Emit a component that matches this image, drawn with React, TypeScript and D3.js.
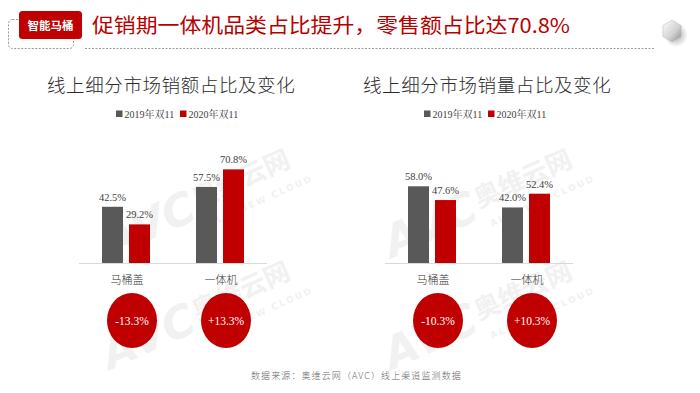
import React from "react";
import * as d3 from "d3";

const categories = ["马桶盖", "一体机"];
const seriesNames = ["2019年双11", "2020年双11"];
const salesValues2019 = [42.5, 57.5];
const salesValues2020 = [29.2, 70.8];
const volumeValues2019 = [58.0, 42.0];
const volumeValues2020 = [47.6, 52.4];
const salesChange = ["-13.3%", "+13.3%"];
const volumeChange = ["-10.3%", "+10.3%"];
const chartTitles = ["线上细分市场销额占比及变化", "线上细分市场销量占比及变化"];
const headerTag = "智能马桶";
const headerTitle = "促销期一体机品类占比提升，零售额占比达70.8%";
const sourceText = "数据来源：奥维云网（AVC）线上渠道监测数据";

const W = 700;
const H = 393;
const GRAY = "#595959";
const RED = "#c00000";
const CJK = "'Noto Sans CJK SC', sans-serif";
const SERIF = "'Liberation Serif', 'Noto Serif CJK SC', 'Noto Sans CJK SC', serif";

const y = d3.scaleLinear().domain([0, 80]).range([263, 157.2]);

function Watermark({ x, yy }: { x: number; yy: number }) {
  return (
    <g transform={`translate(${x},${yy}) rotate(-24)`} fill="#f1f1f1">
      <text x={0} y={0} fontFamily="'DejaVu Sans', sans-serif" fontWeight={700} fontStyle="italic" fontSize={44}>
        AVC
      </text>
      <text x={100} y={-10} fontFamily={CJK} fontWeight={700} fontSize={26}>
        奥维云网
      </text>
      <text x={104} y={12} fontFamily="'DejaVu Sans', sans-serif" fontWeight={700} fontSize={9} letterSpacing={2}>
        ALL VIEW CLOUD
      </text>
    </g>
  );
}

function Chart({
  x0,
  title,
  v2019,
  v2020,
  changes,
  legendX,
  titleX,
}: {
  x0: number;
  title: string;
  v2019: number[];
  v2020: number[];
  changes: string[];
  legendX: number;
  titleX: number;
}) {
  const x = d3.scaleBand<string>().domain(categories).range([x0, x0 + 188]).padding(0);
  const x1 = d3
    .scaleBand<string>()
    .domain(seriesNames)
    .range([0, x.bandwidth()])
    .paddingInner(0.222)
    .paddingOuter(0.852);
  const vals = [v2019, v2020];
  const colors = [GRAY, RED];
  return (
    <g>
      <text x={titleX} y={92} fontFamily={CJK} fontWeight={300} fontSize={18.5} letterSpacing={0.6} fill="#2b2b2b">
        {title}
      </text>
      {seriesNames.map((s, i) => (
        <g key={s} transform={`translate(${legendX + i * 64},0)`}>
          <rect x={0} y={110.5} width={6.5} height={6.5} fill={colors[i]} />
          <text x={8.5} y={117.5} fontFamily={SERIF} fontSize={10} fill="#404040">
            {s}
          </text>
        </g>
      ))}
      <line x1={x0} x2={x0 + 188} y1={263.5} y2={263.5} stroke="#d9d9d9" strokeWidth={1} />
      {categories.map((c, ci) => (
        <g key={c}>
          {seriesNames.map((s, si) => {
            const bx = (x(c) as number) + (x1(s) as number);
            const v = vals[si][ci];
            return (
              <g key={s}>
                <rect x={bx} y={y(v)} width={x1.bandwidth()} height={y(0) - y(v)} fill={colors[si]} />
                <text
                  x={bx + x1.bandwidth() / 2}
                  y={y(v) - 6}
                  textAnchor="middle"
                  fontFamily={SERIF}
                  fontSize={10.5}
                  fill="#404040"
                >
                  {v.toFixed(1)}%
                </text>
              </g>
            );
          })}
          <text
            x={(x(c) as number) + x.bandwidth() / 2 + 1}
            y={284}
            textAnchor="middle"
            fontFamily={CJK}
            fontWeight={300}
            fontSize={11}
            fill="#333"
          >
            {c}
          </text>
          <ellipse
            cx={(x(c) as number) + x.bandwidth() / 2 + 6}
            cy={320.5}
            rx={25}
            ry={27.5}
            fill={RED}
          />
          <text
            x={(x(c) as number) + x.bandwidth() / 2 + 6}
            y={320.5}
            dy="0.35em"
            textAnchor="middle"
            fontFamily={SERIF}
            fontSize={11.5}
            fill="#fff"
          >
            {changes[ci]}
          </text>
        </g>
      ))}
    </g>
  );
}

export default function App() {
  return (
    <svg width={W} height={H} style={{ position: "absolute", left: 0, top: 0, background: "#fff" }}>
      <rect width={W} height={H} fill="#fff" />
      <Watermark x={110} yy={258} />
      <Watermark x={392} yy={258} />
      <Watermark x={110} yy={370} />
      <Watermark x={392} yy={370} />
      {/* header */}
      <rect x={8.5} y={19.5} width={65} height={29} rx={4} fill="none" stroke="#9a9a9a" strokeDasharray="2,1.5" />
      <line x1={85} x2={655} y1={48.5} y2={48.5} stroke="#9a9a9a" strokeDasharray="2,1.5" />
      <rect x={19} y={11} width={63} height={28} rx={3.5} fill="#c00000" />
      <text x={50.5} y={29.5} textAnchor="middle" fontFamily={CJK} fontWeight={700} fontSize={11.5} fill="#fff">
        {headerTag}
      </text>
      <text
        x={92}
        y={33}
        fontFamily={CJK}
        fontSize={20}
        fill="#b80000"
        textLength={478}
        lengthAdjust="spacingAndGlyphs"
      >
        {headerTitle}
      </text>
      <defs>
        <linearGradient id="hexg" x1="0" y1="0" x2="1" y2="1">
          <stop offset="0" stopColor="#ffffff" />
          <stop offset="0.6" stopColor="#d0d0d0" />
          <stop offset="1" stopColor="#8a8a8a" />
        </linearGradient>
        <radialGradient id="hexs">
          <stop offset="0" stopColor="#000" stopOpacity={0.35} />
          <stop offset="1" stopColor="#000" stopOpacity={0} />
        </radialGradient>
      </defs>
      <ellipse cx={676} cy={35} rx={12} ry={12} fill="url(#hexs)" />
      <polygon
        points={d3
          .range(6)
          .map((i) => {
            const a = (Math.PI / 3) * i - Math.PI / 2;
            return `${672 + 10.5 * Math.cos(a)},${31 + 11 * Math.sin(a)}`;
          })
          .join(" ")}
        fill="url(#hexg)"
        stroke="#bbb"
        strokeWidth={0.5}
      />
      <Chart
        x0={79}
        title={chartTitles[0]}
        v2019={salesValues2019}
        v2020={salesValues2020}
        changes={salesChange}
        legendX={116}
        titleX={47}
      />
      <Chart
        x0={385}
        title={chartTitles[1]}
        v2019={volumeValues2019}
        v2020={volumeValues2020}
        changes={volumeChange}
        legendX={424}
        titleX={363}
      />
      <text x={251} y={379} fontFamily={CJK} fontWeight={300} fontSize={9} fill="#666" letterSpacing={1.1}>
        {sourceText}
      </text>
    </svg>
  );
}
